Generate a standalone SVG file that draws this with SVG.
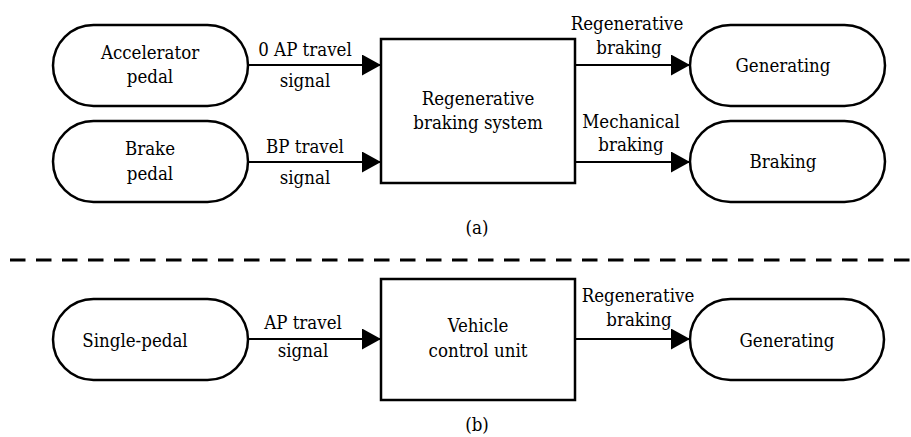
<svg xmlns="http://www.w3.org/2000/svg" width="911" height="437" viewBox="0 0 911 437">
<defs>
<style>
text{font-family:'DejaVu Serif Condensed','DejaVu Serif',serif;font-stretch:condensed;font-size:18.5px;fill:#000;text-anchor:middle}
.term{fill:#fff;stroke:#000;stroke-width:2.5}
.box{fill:#fff;stroke:#000;stroke-width:2.5}
.conn{stroke:#000;stroke-width:2.2;fill:none;marker-end:url(#ah)}
</style>
<marker id="ah" markerUnits="userSpaceOnUse" markerWidth="20" markerHeight="21" refX="19" refY="10.5" orient="auto">
<path d="M0,0 L19,10.5 L0,21 Z" fill="#000"/>
</marker>
</defs>
<rect width="911" height="437" fill="#fff"/>
<g id="connectors">
<line class="conn" x1="248" y1="65" x2="381" y2="65"/>
<line class="conn" x1="248" y1="162" x2="381" y2="162"/>
<line class="conn" x1="575" y1="65" x2="690" y2="65"/>
<line class="conn" x1="575" y1="162" x2="690" y2="162"/>
<line class="conn" x1="248" y1="339" x2="381" y2="339"/>
<line class="conn" x1="575" y1="339" x2="690" y2="339"/>
<text x="305" y="56">0 AP travel</text>
<text x="305" y="87">signal</text>
<text x="305" y="153">BP travel</text>
<text x="305" y="184">signal</text>
<text x="627" y="30">Regenerative</text>
<text x="629" y="54">braking</text>
<text x="631" y="128">Mechanical</text>
<text x="631" y="151">braking</text>
<text x="303" y="329">AP travel</text>
<text x="303" y="357">signal</text>
<text x="638" y="302">Regenerative</text>
<text x="639" y="326">braking</text>
</g>

<g id="accelerator-pedal">
<rect class="term" x="53" y="25" width="195" height="81" rx="40.5" ry="40.5"/>
<text x="150" y="59">Accelerator</text>
<text x="150" y="83">pedal</text>
</g>
<g id="brake-pedal">
<rect class="term" x="53" y="121" width="195" height="81" rx="40.5" ry="40.5"/>
<text x="150" y="155">Brake</text>
<text x="150" y="180">pedal</text>
</g>
<g id="regen-system">
<rect class="box" x="381" y="39" width="194" height="144"/>
<text x="478" y="105">Regenerative</text>
<text x="478" y="129">braking system</text>
</g>
<g id="generating-a">
<rect class="term" x="690" y="25" width="195" height="81" rx="40.5" ry="40.5"/>
<text x="783" y="72">Generating</text>
</g>
<g id="braking">
<rect class="term" x="690" y="121" width="195" height="81" rx="40.5" ry="40.5"/>
<text x="783" y="168">Braking</text>
</g>
<g id="label-a">
<text x="477" y="234">(a)</text>
</g>

<line x1="10" y1="260" x2="911" y2="260" stroke="#000" stroke-width="2.8" stroke-dasharray="15.5 10.5"/>

<g id="single-pedal">
<rect class="term" x="53" y="299" width="195" height="81" rx="40.5" ry="40.5"/>
<text x="135" y="347">Single-pedal</text>
</g>
<g id="vcu">
<rect class="box" x="381" y="279" width="194" height="121"/>
<text x="478" y="332">Vehicle</text>
<text x="478" y="357">control unit</text>
</g>
<g id="generating-b">
<rect class="term" x="690" y="299" width="194" height="81" rx="40.5" ry="40.5"/>
<text x="787" y="347">Generating</text>
</g>
<g id="label-b">
<text x="477" y="431">(b)</text>
</g>
</svg>
